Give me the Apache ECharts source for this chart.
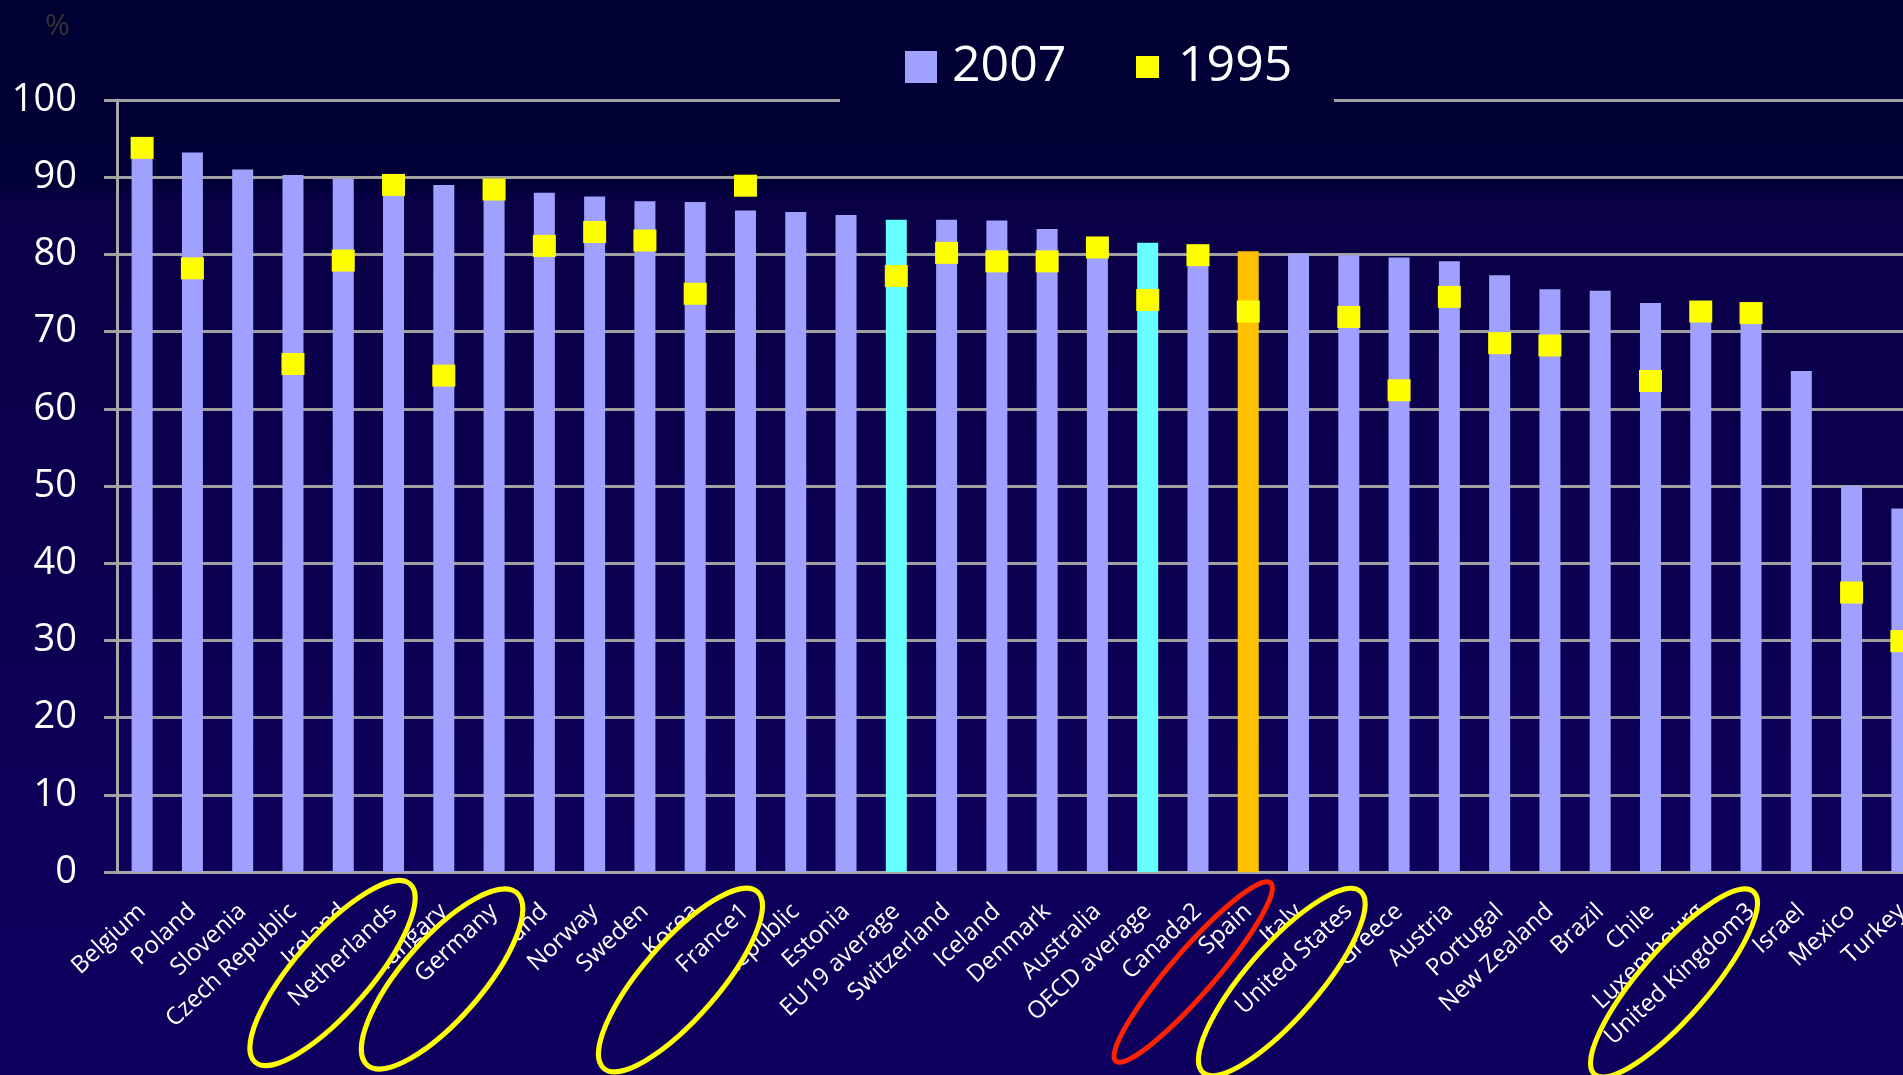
<!DOCTYPE html>
<html>
<head>
<meta charset="utf-8">
<title>2007 / 1995</title>
<script src="https://cdn.jsdelivr.net/npm/echarts@6/dist/echarts.min.js"></script>
<style>
    html, body { margin: 0; padding: 0; background: #000033; overflow: hidden; }
    /* the slide cuts the last bar, so the chart runs past the right edge */
    #main { width: 1927px; height: 1075px; }
</style>
</head>
<body>
<div id="main"></div>
<script>
// data
var categories = ['Belgium', 'Poland', 'Slovenia', 'Czech Republic', 'Ireland', 'Netherlands', 'Hungary',
    'Germany', 'Finland', 'Norway', 'Sweden', 'Korea', 'France1', 'Slovak Republic', 'Estonia',
    'EU19 average', 'Switzerland', 'Iceland', 'Denmark', 'Australia', 'OECD average', 'Canada2',
    'Spain', 'Italy', 'United States', 'Greece', 'Austria', 'Portugal', 'New Zealand', 'Brazil',
    'Chile', 'Luxembourg', 'United Kingdom3', 'Israel', 'Mexico', 'Turkey'];
var values2007 = [94.0, 93.2, 91.0, 90.3, 89.8, 89.4, 89.0, 88.5, 88.0, 87.5, 86.9, 86.8, 85.7, 85.5, 85.1,
    84.5, 84.5, 84.4, 83.3, 82.0, 81.5, 81.0, 80.4, 80.1, 79.9, 79.6, 79.1, 77.3, 75.5, 75.3,
    73.7, 73.3, 72.0, 64.9, 50.0, 47.1];
var values1995 = [93.8, 78.2, null, 65.8, 79.2, 89.0, 64.3, 88.4, 81.1, 82.9, 81.8, 74.9, 88.9, null, null,
    77.2, 80.2, 79.1, 79.1, 80.9, 74.1, 79.9, 72.6, null, 71.9, 62.4, 74.5, 68.5, 68.2, null,
    63.6, 72.6, 72.4, null, 36.2, 29.9];
var yTicks = [0, 100, 10]; // min, max, step

// highlighting
var averageBars = ['EU19 average', 'OECD average'];
var ownCountry = ['Spain'];
var circled = ['Netherlands', 'Germany', 'France1', 'Spain', 'United States', 'United Kingdom3'];

// ellipse annotations (offset from category centre / x axis)
var rings = [
    {dx: -61, dy: 101, rx: 118, ry: 38, color: '#ffff00'},
    {dx: -52, dy: 107, rx: 114, ry: 40, color: '#ffff00'},
    {dx: -65, dy: 108, rx: 117, ry: 38, color: '#ffff00'},
    {dx: -55, dy: 100, rx: 118, ry: 22, color: '#ff2200'},
    {dx: -67, dy: 110, rx: 120, ry: 36, color: '#ffff00'},
    {dx: -77, dy: 111, rx: 121, ry: 34, color: '#ffff00'}
];
var ringAngle = 49 * Math.PI / 180;

var FONT = 'Open Sans';
var barColor = '#a0a0ff';
var chart = echarts.init(document.getElementById('main'));

var barData = values2007.map(function (v, i) {
    var c = categories[i];
    if (averageBars.indexOf(c) >= 0) return {value: v, itemStyle: {color: '#66ffff'}};
    if (ownCountry.indexOf(c) >= 0) return {value: v, itemStyle: {color: '#ffc000'}};
    return v;
});

var option = {
    animation: false,
    backgroundColor: new echarts.graphic.LinearGradient(0, 0, 0, 1, [
        {offset: 0, color: '#000033'},
        {offset: 0.172, color: '#000036'},
        {offset: 0.185, color: '#0a0046'},
        {offset: 0.8, color: '#0d005a'},
        {offset: 1, color: '#0f0060'}
    ]),
    textStyle: {fontFamily: FONT},
    title: {
        text: '%', left: 40, top: 6,
        textStyle: {color: '#333333', fontSize: 30, fontWeight: 'normal', fontFamily: FONT}
    },
    legend: [{
        data: ['2007'], left: 905, top: 41, padding: 0,
        icon: 'rect', itemWidth: 32, itemHeight: 32, selectedMode: false,
        textStyle: {color: '#fff', fontSize: 50, lineHeight: 52, padding: [0, 0, 0, 10], fontFamily: FONT}
    }, {
        data: ['1995'], left: 1136, top: 41, padding: 0,
        icon: 'rect', itemWidth: 23, itemHeight: 22, selectedMode: false,
        textStyle: {color: '#fff', fontSize: 50, lineHeight: 52, padding: [0, 0, 0, 14], fontFamily: FONT}
    }],
    grid: {left: 117, top: 100, right: 0, bottom: 203},
    xAxis: [{
        type: 'category', data: categories, position: 'bottom', z: 0,
        axisLine: {lineStyle: {color: '#a8a8a8', width: 3}},
        axisTick: {length: 10, lineStyle: {color: '#a8a8a8', width: 3}},
        axisLabel: {
            interval: 0, rotate: 43, margin: 36, color: '#fff', fontSize: 24, fontFamily: FONT,
            formatter: function (v) { return circled.indexOf(v) >= 0 ? '' : v; }
        }
    }, {
        // circled labels drawn over the ellipses
        type: 'category', data: categories, position: 'bottom', z: 10,
        axisLine: {show: false}, axisTick: {show: false},
        axisLabel: {
            interval: 0, rotate: 43, margin: 36, color: '#fff', fontSize: 24, fontFamily: FONT,
            formatter: function (v) { return circled.indexOf(v) >= 0 ? v : ''; }
        }
    }],
    yAxis: {
        type: 'value', min: yTicks[0], max: yTicks[1], interval: yTicks[2],
        axisLine: {show: true, lineStyle: {color: '#a8a8a8', width: 3}},
        axisTick: {show: true, length: 13, lineStyle: {color: '#a0a0a0', width: 3}},
        splitLine: {lineStyle: {color: '#a0a0a0', width: 3}},
        axisLabel: {color: '#fff', fontSize: 38, margin: 40, fontFamily: FONT}
    },
    series: [{
        name: '2007', type: 'bar', barWidth: 21, z: 2,
        itemStyle: {color: barColor},
        data: barData
    }, {
        name: '1995', type: 'scatter', xAxisIndex: 1, z: 3,
        symbol: 'rect', symbolSize: [23, 22],
        itemStyle: {color: '#ffff00', opacity: 1},
        data: values1995
    }]
};
chart.setOption(option);

// ellipses + gap in the top gridline behind the legend
var elems = [{
    type: 'rect', z: 3, silent: true,
    shape: {x: 840, y: 88, width: 494, height: 24},
    style: {fill: '#000033'}
}];
var axisY = chart.convertToPixel({yAxisIndex: 0}, 0);
for (var i = 0; i < circled.length; i++) {
    var cx = chart.convertToPixel({xAxisIndex: 0}, circled[i]);
    var r = rings[i];
    elems.push({
        type: 'ellipse', z: 5, silent: true,
        x: cx + r.dx, y: axisY + r.dy, rotation: ringAngle,
        shape: {cx: 0, cy: 0, rx: r.rx, ry: r.ry},
        style: {fill: '#0e005c', stroke: r.color, lineWidth: 5}
    });
}
chart.setOption({graphic: elems});
</script>
</body>
</html>
